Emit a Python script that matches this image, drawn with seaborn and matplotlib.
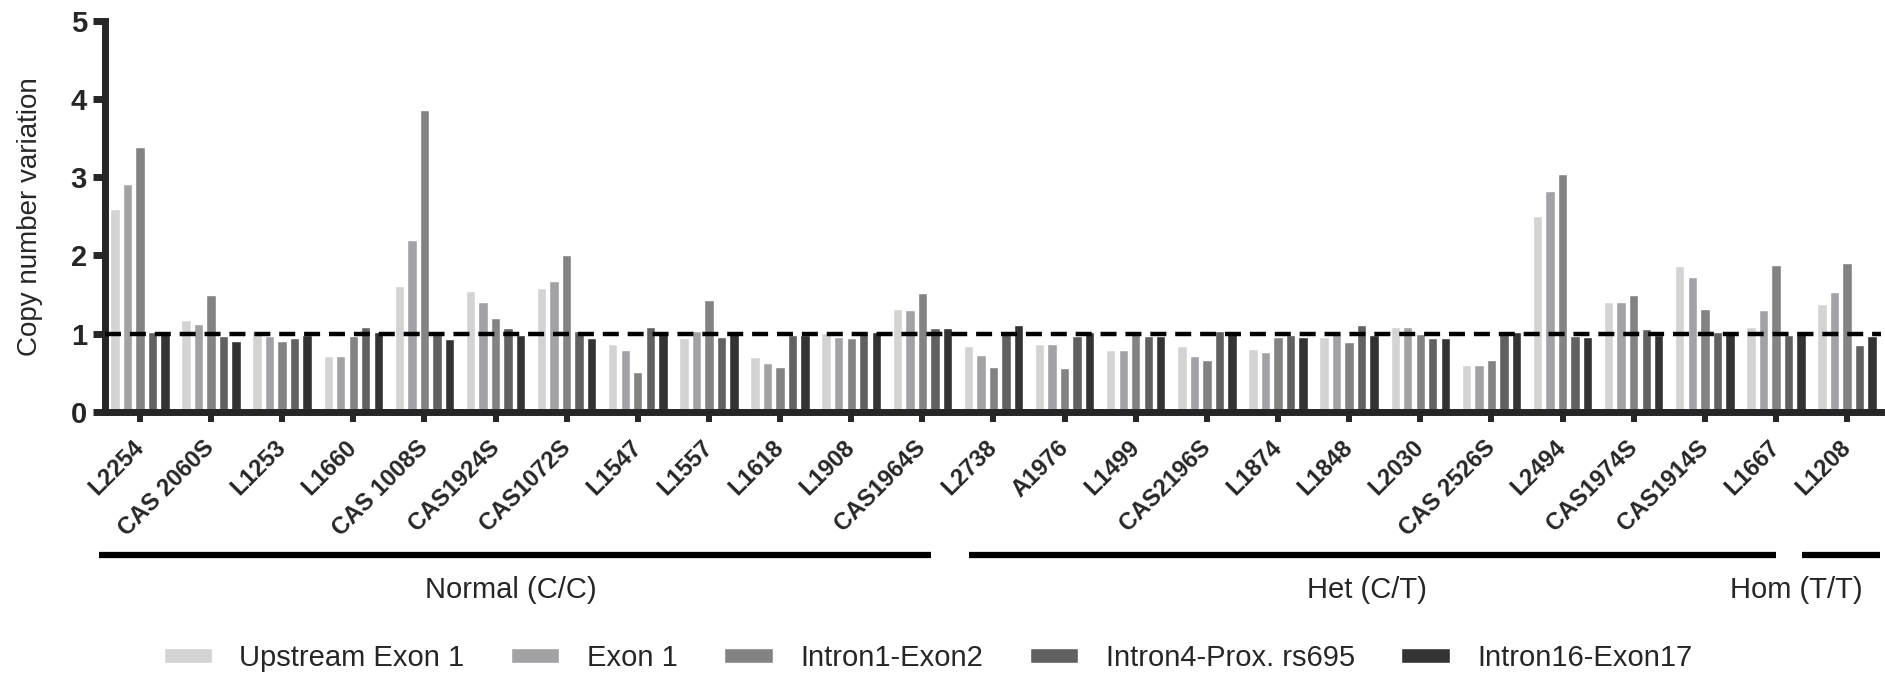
import seaborn as sns
import pandas as pd
import matplotlib.pyplot as plt

# amostras e grupos de genotipo
amostras = ["L2254", "CAS 2060S", "L1253", "L1660", "CAS 1008S", "CAS1924S", "CAS1072S",
            "L1547", "L1557", "L1618", "L1908", "CAS1964S", "L2738", "A1976", "L1499",
            "CAS2196S", "L1874", "L1848", "L2030", "CAS 2526S", "L2494", "CAS1974S",
            "CAS1914S", "L1667", "L1208"]

regioes = ["Upstream Exon 1", "Exon 1", "Intron1-Exon2", "Intron4-Prox. rs695", "Intron16-Exon17"]

upstream_exon1 = [2.60, 1.17, 1.02, 0.71, 1.61, 1.55, 1.58, 0.87, 0.94, 0.70, 1.01, 1.31,
                  0.84, 0.87, 0.79, 0.84, 0.81, 0.96, 1.09, 0.60, 2.50, 1.40, 1.86, 1.09, 1.38]
exon1 = [2.91, 1.13, 0.97, 0.71, 2.20, 1.40, 1.68, 0.79, 1.04, 0.63, 0.96, 1.30,
         0.73, 0.87, 0.79, 0.71, 0.77, 1.00, 1.09, 0.60, 2.83, 1.40, 1.73, 1.30, 1.53]
intron1_exon2 = [3.39, 1.50, 0.91, 0.97, 3.86, 1.20, 2.01, 0.51, 1.43, 0.58, 0.94, 1.52,
                 0.58, 0.56, 1.04, 0.66, 0.96, 0.89, 1.00, 0.66, 3.04, 1.50, 1.32, 1.88, 1.91]
intron4_rs695 = [1.02, 0.97, 0.94, 1.09, 1.02, 1.07, 1.04, 1.09, 0.96, 0.99, 1.02, 1.07,
                 1.04, 0.97, 0.97, 1.04, 0.99, 1.11, 0.94, 1.04, 0.97, 1.06, 1.02, 0.99, 0.86]
intron16_exon17 = [1.04, 0.91, 0.99, 1.02, 0.93, 0.99, 0.94, 1.02, 1.04, 0.99, 1.02, 1.07,
                   1.11, 1.02, 0.97, 1.02, 0.96, 0.99, 0.94, 1.02, 0.96, 0.99, 1.04, 1.04, 0.97]

cores = ["#d3d3d3", "#a2a2a6", "#838383", "#616161", "#333333"]

# grupos: (rotulo, inicio da linha, fim da linha, posicao do texto) em unidades do eixo x
grupos = [("Normal (C/C)", -0.58, 11.12, 5.22),
          ("Het (C/T)", 11.66, 23.0, 17.25),
          ("Hom (T/T)", 23.36, 24.46, 23.29)]

series = [upstream_exon1, exon1, intron1_exon2, intron4_rs695, intron16_exon17]
df = pd.DataFrame({
    "amostra": amostras * 5,
    "regiao": [r for r in regioes for _ in amostras],
    "valor": [v for s in series for v in s],
})

sns.set_style("ticks")
plt.rcParams["font.family"] = ["Liberation Sans", "DejaVu Sans"]

fig = plt.figure(figsize=(18.85, 6.74), dpi=100)
ax = fig.add_axes([0.0557, 0.3887, 0.9423, 0.5806])

sns.barplot(data=df, x="amostra", y="valor", hue="regiao", palette=cores,
            width=0.88, gap=0.25, saturation=1, ax=ax, zorder=2)

ax.axhline(1, color="black", lw=3.2, ls=(0, (3.6, 2.0)), zorder=3)

ax.set_ylim(0, 5)
ax.set_yticks([0, 1, 2, 3, 4, 5])
ax.set_xlim(-0.49, 24.48)
ax.set_xlabel("")
ax.set_ylabel("Copy number variation", fontsize=20, labelpad=20)

sns.despine(ax=ax)
for s in ["left", "bottom"]:
    ax.spines[s].set_linewidth(5)
ax.tick_params(axis="y", length=9, width=5, pad=4, labelsize=21)
ax.tick_params(axis="x", length=7, width=4.3, pad=16)
for t in ax.get_yticklabels():
    t.set_fontweight("bold")
ax.set_xticks(range(len(amostras)))
ax.set_xticklabels(amostras, rotation=45, ha="right", va="center",
                   rotation_mode="anchor", fontweight="bold", fontsize=17)

# linhas e rotulos dos grupos
trans = ax.get_xaxis_transform()
for nome, x0, x1, xt in grupos:
    ax.plot([x0, x1], [-0.3655, -0.3655], color="black", lw=4.5,
            transform=trans, clip_on=False, solid_capstyle="butt")
    ax.text(xt, -0.455, nome, transform=trans, ha="center", va="center", fontsize=21)

ax.legend_.remove()
handles, labels = ax.get_legend_handles_labels()
fig.legend(handles[:5], labels[:5], loc="center", bbox_to_anchor=(928 / 1885, 1 - 658 / 674),
           ncol=5, frameon=False, fontsize=21, handlelength=1.65, handleheight=0.4,
           handletextpad=0.95, columnspacing=1.6)

plt.savefig("out.png", dpi=100)
